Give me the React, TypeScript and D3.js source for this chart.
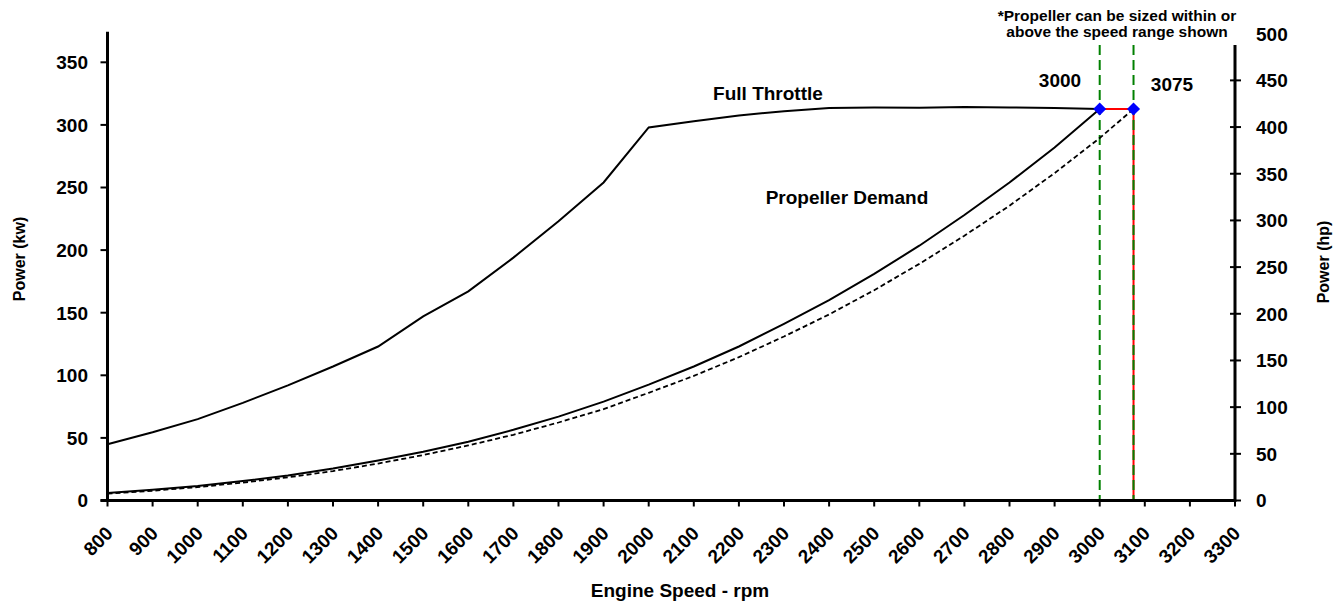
import React, { useRef, useEffect } from 'react';
import * as d3 from 'd3';

// engine speed (rpm) for the curves
const rpm = [800, 900, 1000, 1100, 1200, 1300, 1400, 1500, 1600, 1700, 1800, 1900, 2000, 2100, 2200, 2300, 2400, 2500, 2600, 2700, 2800, 2900, 3000];
// power in kW
const fullThrottle = [45, 54.5, 65, 78, 92, 107, 123, 147, 167, 194, 223, 254, 298, 303, 307.5, 311, 313.5, 314, 313.8, 314.3, 314, 313.5, 312.7];
const propDemand = [6, 8.5, 11.5, 15.5, 20, 25.5, 32, 39, 47, 56.5, 67, 79, 92.5, 107, 123, 141, 160, 181, 203.5, 228, 254, 282, 312.7];
// propeller sized at 3075 rpm (dashed)
const propRpm2 = [...rpm, 3075];
const propDemand2 = [5.5, 7.8, 10.7, 14.3, 18.5, 23.5, 29.5, 36.3, 44, 52.5, 62.3, 73, 86, 99.5, 114.5, 131, 148.6, 168, 189, 211.5, 235.5, 261.5, 289.5, 312.7];

const ratedPoints = [3000, 3075];
const ratedPower = 312.7;

const xTicks = d3.range(800, 3301, 100);
const kwTicks = [0, 50, 100, 150, 200, 250, 300, 350];
const hpTicks = [0, 50, 100, 150, 200, 250, 300, 350, 400, 450, 500];
const HP_TO_KW = 0.7457;

const FONT = '"Liberation Sans", Arial, sans-serif';

const App: React.FC = () => {
  const ref = useRef<SVGSVGElement | null>(null);

  useEffect(() => {
    const width = 1338;
    const height = 603;
    const svg = d3.select(ref.current);
    svg.selectAll('*').remove();
    svg.attr('width', width).attr('height', height)
      .style('font-family', FONT).style('font-weight', 'bold');

    const left = 107.5, right = 1235, bottom = 500.5, top = 33.7;
    const x = d3.scaleLinear().domain([800, 3300]).range([left, right]);
    const y = d3.scaleLinear().domain([0, 500 * HP_TO_KW]).range([bottom, top]);

    const line = d3.line<[number, number]>()
      .x((d) => x(d[0]))
      .y((d) => y(d[1]));

    // red guide lines at the rated point
    svg.append('line')
      .attr('x1', x(3075)).attr('x2', x(3075))
      .attr('y1', y(ratedPower)).attr('y2', bottom)
      .attr('stroke', '#ff0000').attr('stroke-width', 2);
    svg.append('line')
      .attr('x1', x(3000)).attr('x2', x(3075))
      .attr('y1', y(ratedPower)).attr('y2', y(ratedPower))
      .attr('stroke', '#ff0000').attr('stroke-width', 2);
    // green speed markers
    ratedPoints.forEach((r) => {
      svg.append('line')
        .attr('x1', x(r)).attr('x2', x(r))
        .attr('y1', 45).attr('y2', bottom)
        .attr('stroke', '#008000').attr('stroke-width', 2)
        .attr('stroke-dasharray', '10,5');
    });

    // curves
    svg.append('path')
      .datum(rpm.map((r, i) => [r, fullThrottle[i]] as [number, number]))
      .attr('fill', 'none').attr('stroke', '#000').attr('stroke-width', 2)
      .attr('d', line as any);
    svg.append('path')
      .datum(rpm.map((r, i) => [r, propDemand[i]] as [number, number]))
      .attr('fill', 'none').attr('stroke', '#000').attr('stroke-width', 2)
      .attr('d', line as any);
    svg.append('path')
      .datum(propRpm2.map((r, i) => [r, propDemand2[i]] as [number, number]))
      .attr('fill', 'none').attr('stroke', '#000').attr('stroke-width', 1.8)
      .attr('stroke-dasharray', '5,3')
      .attr('d', line as any);

    // diamonds
    const diamond = d3.symbol().type(d3.symbolSquare).size(85);
    ratedPoints.forEach((r) => {
      svg.append('path')
        .attr('d', diamond() as string)
        .attr('transform', `translate(${x(r)},${y(ratedPower)}) rotate(45)`)
        .attr('fill', '#0000ff');
    });

    // x axis
    const gx = svg.append('g').attr('transform', `translate(0,${bottom})`);
    gx.append('line').attr('x1', left - 7).attr('x2', right).attr('stroke', '#000').attr('stroke-width', 3);
    xTicks.forEach((t) => {
      gx.append('line').attr('x1', x(t)).attr('x2', x(t)).attr('y1', 0).attr('y2', 6)
        .attr('stroke', '#000').attr('stroke-width', 2);
      gx.append('text')
        .attr('transform', `translate(${x(t) + 6.5},34) rotate(-45)`)
        .attr('text-anchor', 'end').attr('font-size', 19)
        .text(t);
    });

    // left axis (kW)
    svg.append('line').attr('x1', left).attr('x2', left).attr('y1', top - 2).attr('y2', bottom + 1.5)
      .attr('stroke', '#000').attr('stroke-width', 3);
    kwTicks.forEach((t) => {
      svg.append('line').attr('x1', left - 7).attr('x2', left).attr('y1', y(t)).attr('y2', y(t))
        .attr('stroke', '#000').attr('stroke-width', 2);
      svg.append('text')
        .attr('x', 88).attr('y', y(t)).attr('dy', '0.36em')
        .attr('text-anchor', 'end').attr('font-size', 19)
        .text(t);
    });

    // right axis (hp)
    svg.append('line').attr('x1', right).attr('x2', right).attr('y1', 45).attr('y2', bottom + 1.5)
      .attr('stroke', '#000').attr('stroke-width', 3);
    hpTicks.forEach((t) => {
      if (t < 500) {
        svg.append('line').attr('x1', right - 5).attr('x2', right + 6)
          .attr('y1', y(t * HP_TO_KW)).attr('y2', y(t * HP_TO_KW))
          .attr('stroke', '#000').attr('stroke-width', 2);
      }
      svg.append('text')
        .attr('x', 1256).attr('y', y(t * HP_TO_KW)).attr('dy', '0.36em')
        .attr('font-size', 19)
        .text(t);
    });

    // axis titles
    svg.append('text').attr('x', 680).attr('y', 597).attr('text-anchor', 'middle')
      .attr('font-size', 19).text('Engine Speed - rpm');
    svg.append('text').attr('transform', 'translate(25,259) rotate(-90)').attr('text-anchor', 'middle')
      .attr('font-size', 16).text('Power (kw)');
    svg.append('text').attr('transform', 'translate(1329,262) rotate(-90)').attr('text-anchor', 'middle')
      .attr('font-size', 16).text('Power (hp)');

    // annotations
    svg.append('text').attr('x', 768).attr('y', 100).attr('text-anchor', 'middle')
      .attr('font-size', 19).text('Full Throttle');
    svg.append('text').attr('x', 847).attr('y', 204).attr('text-anchor', 'middle')
      .attr('font-size', 19).text('Propeller Demand');
    svg.append('text').attr('x', 1060).attr('y', 87).attr('text-anchor', 'middle')
      .attr('font-size', 19).text('3000');
    svg.append('text').attr('x', 1172).attr('y', 91).attr('text-anchor', 'middle')
      .attr('font-size', 19).text('3075');
    svg.append('text').attr('x', 1117).attr('y', 21).attr('text-anchor', 'middle')
      .attr('font-size', 15.5).text('*Propeller can be sized within or');
    svg.append('text').attr('x', 1117).attr('y', 37).attr('text-anchor', 'middle')
      .attr('font-size', 15.5).text('above the speed range shown');
  }, []);

  return (
    <div style={{ position: 'absolute', left: 0, top: 0 }}>
      <svg ref={ref} />
    </div>
  );
};

export default App;
